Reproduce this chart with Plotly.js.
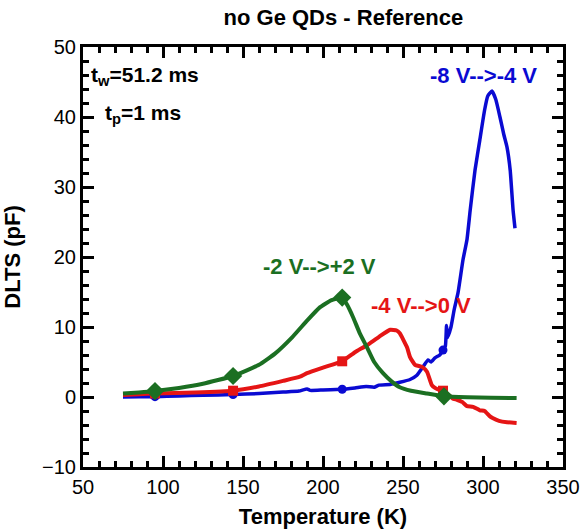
<!DOCTYPE html>
<html>
<head>
<meta charset="utf-8">
<script src="https://cdn.plot.ly/plotly-3.0.1.min.js"></script>
<style>
  html, body { margin: 0; padding: 0; background: #fff; }
  #chart { width: 587px; height: 532px; }
</style>
</head>
<body>
<div id="chart"></div>
<script>
// DLTS spectra, sample without Ge QDs (reference)

// -8 V --> -4 V pulse
const blueT = [75, 85, 95, 110, 125, 143.8, 160, 175, 185, 190, 192, 200, 212, 220, 227, 232, 235, 242, 248, 254.4, 258.7, 262.5, 265.6, 267.5, 270, 273, 275, 276.5, 277.2, 277.8, 280, 282, 284.4, 287.5, 290, 292, 295, 298, 301, 303, 305.6, 308, 310.6, 313, 315, 317, 318.8, 320];
const blueY = [0.0, 0.02, 0.05, 0.15, 0.25, 0.35, 0.5, 0.7, 0.85, 1.15, 0.95, 1.0, 1.1, 1.3, 1.5, 1.4, 1.7, 1.8, 2.1, 2.5, 3.1, 4.3, 5.3, 5.0, 5.6, 6.0, 6.7, 7.3, 10.2, 8.5, 10.0, 12.5, 14.9, 19.6, 22.5, 26.7, 32.4, 36.7, 41.0, 43.0, 43.7, 42.5, 40.0, 37.5, 35.7, 32.4, 26.7, 24.1];
const blueMarkT = [95, 143.8, 212, 275];
const blueMarkY = [0.05, 0.35, 1.1, 6.7];

// -4 V --> 0 V pulse
const redT = [75, 85, 95, 120, 143.8, 160, 175, 185.6, 190, 200, 212, 220, 227.5, 235, 242, 246, 248, 252.5, 254.4, 257.5, 261.9, 265, 268, 270, 273, 275, 278, 281, 283.75, 287, 290, 293.75, 298, 301, 304, 306, 310, 315, 321];
const redY = [0.3, 0.4, 0.5, 0.65, 0.9, 1.5, 2.3, 2.9, 3.4, 4.2, 5.1, 6.4, 7.4, 8.6, 9.6, 9.5, 9.1, 7.1, 5.7, 4.6, 4.3, 3.6, 1.7, 1.3, 1.0, 0.9, 0.4, -0.2, -0.4, -0.7, -1.3, -1.4, -1.9, -2.0, -2.7, -3.0, -3.4, -3.6, -3.7];
const redMarkT = [95, 143.8, 212, 275];
const redMarkY = [0.5, 0.9, 5.1, 0.9];

// -2 V --> +2 V pulse
const greenT = [75, 85, 95, 110, 125, 143.8, 160, 170, 181, 190, 198, 205, 212, 215, 218.8, 223, 227.5, 232, 237.5, 243, 248, 255, 265, 275.6, 290, 305, 321];
const greenY = [0.5, 0.65, 0.85, 1.3, 1.9, 3.0, 4.6, 6.2, 8.6, 10.9, 12.8, 13.8, 14.2, 13.2, 11.4, 9.1, 7.1, 5.0, 3.4, 2.2, 1.4, 0.9, 0.5, 0.1, -0.05, -0.1, -0.15];
const greenMarkT = [95, 143.8, 212, 275.6];
const greenMarkY = [0.85, 3.0, 14.2, 0.1];

const X_RANGE = [50, 350];
const Y_RANGE = [-10, 50];
const X_MAJOR = 50, X_MINOR = 10;
const Y_MAJOR = 10, Y_MINOR = 2;

const BLUE = '#0a0ad2';
const RED = '#e51515';
const GREEN = '#1b6f22';
const FONT = 'Liberation Sans, Arial, Helvetica, sans-serif';

function line(x, y, color, width) {
  return { x: x, y: y, mode: 'lines', type: 'scatter', showlegend: false,
           line: { color: color, width: width, shape: 'spline', smoothing: 0.4 },
           hoverinfo: 'skip' };
}
function marks(x, y, color, symbol, size) {
  return { x: x, y: y, mode: 'markers', type: 'scatter', showlegend: false,
           marker: { color: color, symbol: symbol, size: size, line: { width: 0 } } };
}

const traces = [
  line(blueT, blueY, BLUE, 3.5),
  line(redT, redY, RED, 4),
  line(greenT, greenY, GREEN, 4),
  marks(blueMarkT, blueMarkY, BLUE, 'circle', 9),
  marks(redMarkT, redMarkY, RED, 'square', 10),
  marks(greenMarkT, greenMarkY, GREEN, 'diamond', 14)
];

// Boxed axis: thick frame, inward major + minor ticks mirrored on the opposite side
function axis(range, step, minorStep, titleText, standoff) {
  return {
    range: range, autorange: false,
    showgrid: false, zeroline: false,
    showline: true, linecolor: '#000', linewidth: 3, mirror: 'ticks',
    tickmode: 'linear', tick0: range[0], dtick: step,
    ticks: 'inside', ticklen: 11, tickwidth: 3, tickcolor: '#000',
    tickfont: { family: FONT, size: 20, color: '#000' },
    minor: { tick0: range[0], dtick: minorStep, ticks: 'inside', ticklen: 6, tickwidth: 3,
             tickcolor: '#000', showgrid: false },
    title: { text: titleText, font: { family: FONT, size: 22, color: '#000' }, standoff: standoff }
  };
}

const layout = {
  width: 587, height: 532,
  margin: { l: 83, r: 24, t: 47, b: 65 },
  paper_bgcolor: '#fff', plot_bgcolor: 'rgba(0,0,0,0)',
  font: { family: FONT, color: '#000' },
  title: { text: '<b>no Ge QDs - Reference</b>', font: { family: FONT, size: 22, color: '#000' },
           x: 0.585, xanchor: 'center', y: 0.967, yanchor: 'middle', yref: 'container' },
  xaxis: axis(X_RANGE, X_MAJOR, X_MINOR, '<b>Temperature (K)</b>', 12),
  yaxis: axis(Y_RANGE, Y_MAJOR, Y_MINOR, '<b>DLTS (pF)</b>', 19),
  annotations: [
    { x: 53.5, y: 45.9, xref: 'x', yref: 'y', xanchor: 'left', yanchor: 'middle', showarrow: false,
      text: '<b>t<sub>w</sub>=51.2 ms</b>', font: { family: FONT, size: 21, color: '#000' } },
    { x: 62.5, y: 40.4, xref: 'x', yref: 'y', xanchor: 'left', yanchor: 'middle', showarrow: false,
      text: '<b>t<sub>p</sub>=1 ms</b>', font: { family: FONT, size: 21, color: '#000' } },
    { x: 300.6, y: 45.9, xref: 'x', yref: 'y', showarrow: false,
      text: '<b>-8 V-->-4 V</b>', font: { family: FONT, size: 22, color: BLUE } },
    { x: 198, y: 18.7, xref: 'x', yref: 'y', showarrow: false,
      text: '<b>-2 V-->+2 V</b>', font: { family: FONT, size: 22, color: GREEN } },
    { x: 261, y: 13.1, xref: 'x', yref: 'y', showarrow: false,
      text: '<b>-4 V-->0 V</b>', font: { family: FONT, size: 22, color: RED } }
  ]
};

Plotly.newPlot('chart', traces, layout, { displayModeBar: false, staticPlot: true });
</script>
</body>
</html>
